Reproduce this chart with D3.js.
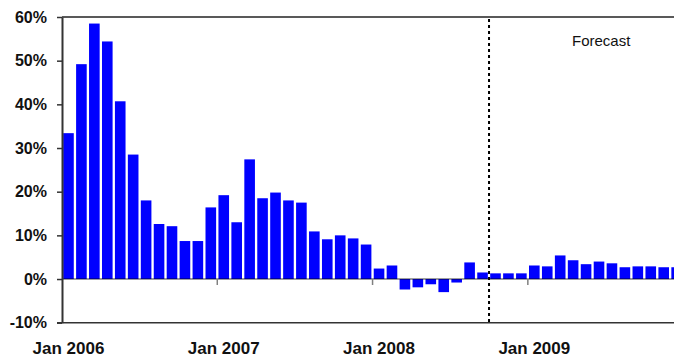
<!DOCTYPE html>
<html>
<head>
<meta charset="utf-8">
<script src="https://cdn.jsdelivr.net/npm/d3@7"></script>
<style>
  body { margin: 0; background: #fff; }
  text { font-family: "Liberation Sans", Arial, sans-serif; }
</style>
</head>
<body>
<svg id="chart" width="674" height="358"></svg>
<script>
// months Jan 2006 .. Dec 2009
var years = ["2006", "2007", "2008", "2009"];
var monthNames = ["Jan","Feb","Mar","Apr","May","Jun","Jul","Aug","Sep","Oct","Nov","Dec"];
var months = [];
years.forEach(function(y) { monthNames.forEach(function(m) { months.push(m + " " + y); }); });

// year-over-year change, %
var values = [
  33.4, 49.2, 58.5, 54.4, 40.7, 28.5, 18.0, 12.6, 12.1, 8.7, 8.7, 16.4,
  19.2, 13.0, 27.4, 18.5, 19.8, 18.0, 17.5, 10.9, 9.1, 10.0, 9.3, 7.9,
  2.4, 3.1, -2.4, -1.9, -1.2, -3.0, -0.8, 3.8, 1.5, 1.3, 1.3, 1.3,
  3.1, 2.9, 5.4, 4.3, 3.4, 4.0, 3.6, 2.7, 2.9, 2.9, 2.7, 2.7
];

var yTicks = [-10, 0, 10, 20, 30, 40, 50, 60];
var xLabels = ["Jan 2006", "Jan 2007", "Jan 2008", "Jan 2009"];
var forecastStart = "Oct 2008";

var svg = d3.select("#chart"),
    plotLeft = 62,
    plotRight = 674,
    plotTop = 17,
    plotBottom = 322.7,
    step = 12.94;

var x = d3.scaleBand()
    .domain(months)
    .range([plotLeft, plotLeft + step * months.length])
    .paddingInner(0.18)
    .paddingOuter(0.09);

var y = d3.scaleLinear()
    .domain([-10, 60])
    .range([plotBottom, plotTop]);

// bars
svg.append("g").selectAll("rect")
    .data(values)
  .enter().append("rect")
    .attr("x", function(d, i) { return x(months[i]); })
    .attr("width", x.bandwidth())
    .attr("y", function(d) { return y(Math.max(0, d)); })
    .attr("height", function(d) { return Math.abs(y(d) - y(0)); })
    .attr("fill", "#0000ff");

// zero line, half transparent so it darkens over the bars
svg.append("line")
    .attr("x1", plotLeft).attr("x2", plotRight)
    .attr("y1", y(0)).attr("y2", y(0))
    .attr("stroke", "#000").attr("stroke-opacity", 0.5)
    .attr("stroke-width", 1.5);

// x ticks at the start of each year
svg.append("g").selectAll("line")
    .data(xLabels.slice(1))
  .enter().append("line")
    .attr("x1", function(d) { return x(d) - x.step() * x.paddingInner() / 2; })
    .attr("x2", function(d) { return x(d) - x.step() * x.paddingInner() / 2; })
    .attr("y1", y(0)).attr("y2", y(0) + 6)
    .attr("stroke", "#808080").attr("stroke-width", 1.5);

// frame: top and bottom lines
svg.append("line")
    .attr("x1", plotLeft).attr("x2", plotRight)
    .attr("y1", plotTop).attr("y2", plotTop)
    .attr("stroke", "#222").attr("stroke-width", 1.5);
svg.append("line")
    .attr("x1", plotLeft - 5).attr("x2", plotRight)
    .attr("y1", y(-10)).attr("y2", y(-10))
    .attr("stroke", "#333").attr("stroke-width", 1.5);

// y axis
var yAxis = d3.axisLeft(y)
    .tickValues(yTicks)
    .tickSize(5)
    .tickSizeOuter(0)
    .tickPadding(10)
    .tickFormat(function(d) { return d + "%"; });

var ya = svg.append("g")
    .attr("transform", "translate(" + plotLeft + ",0)")
    .call(yAxis);
ya.select(".domain").attr("stroke", "#333").attr("stroke-width", 2);
ya.selectAll(".tick line").attr("stroke", "#333").attr("stroke-width", 1.5);
ya.selectAll(".tick text")
    .attr("font-size", "16px")
    .attr("font-weight", "bold")
    .attr("fill", "#111")
    .attr("font-family", "Liberation Sans, Arial, sans-serif");

// x labels
svg.append("g").selectAll("text")
    .data(xLabels)
  .enter().append("text")
    .attr("x", function(d) { return x(d) + x.bandwidth() / 2; })
    .attr("y", 354)
    .attr("text-anchor", "middle")
    .attr("font-size", "17px")
    .attr("font-weight", "bold")
    .attr("fill", "#111")
    .text(function(d) { return d; });

// forecast divider
var fx = x(forecastStart) - x.step() * x.paddingInner() / 2;
svg.append("line")
    .attr("x1", fx).attr("x2", fx)
    .attr("y1", plotTop + 2).attr("y2", plotBottom)
    .attr("stroke", "#000").attr("stroke-width", 2)
    .attr("stroke-dasharray", "3,3");

svg.append("text")
    .attr("x", 572)
    .attr("y", 45.5)
    .attr("font-size", "15px")
    .attr("fill", "#111")
    .text("Forecast");
</script>
</body>
</html>
